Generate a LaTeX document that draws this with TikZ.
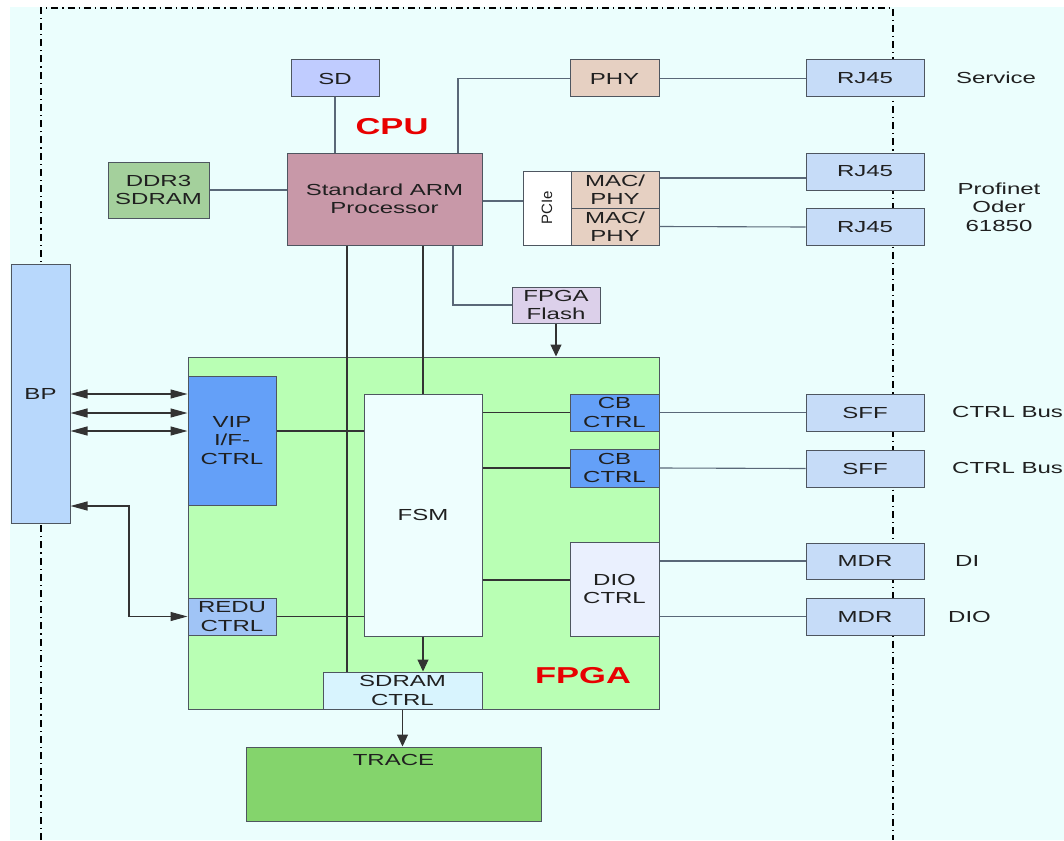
\documentclass[tikz,border=0pt]{standalone}
\usepackage{fontspec}
\setmainfont{Liberation Sans}[FakeStretch=1.5]
\newfontfamily\plainsans{Liberation Sans}
\usetikzlibrary{arrows.meta}
\definecolor{bgc}{HTML}{EBFEFD}
\definecolor{fpgac}{HTML}{B9FFB4}
\definecolor{sdc}{HTML}{C0CCFF}
\definecolor{ddrc}{HTML}{A4D09C}
\definecolor{armc}{HTML}{C898A8}
\definecolor{phyc}{HTML}{E6D0C2}
\definecolor{rjc}{HTML}{C6DCF8}
\definecolor{flashc}{HTML}{DCD0EA}
\definecolor{bpc}{HTML}{B8D8FC}
\definecolor{vipc}{HTML}{64A0F8}
\definecolor{reduc}{HTML}{A0C4F6}
\definecolor{fsmc}{HTML}{EEFEFE}
\definecolor{dioc}{HTML}{EAF0FE}
\definecolor{sdrc}{HTML}{D8F4FE}
\definecolor{tracec}{HTML}{84D46C}
\definecolor{bord}{HTML}{4E5660}
\definecolor{lnc}{HTML}{5A6878}
\definecolor{txt}{HTML}{202020}
\definecolor{redlbl}{HTML}{E80000}
\begin{document}
\begin{tikzpicture}[x=1pt,y=-1pt,
  box/.style={draw=bord, line width=1pt, inner sep=0pt, align=center,
    font=\fontsize{16}{18.5}\selectfont, text=txt},
  lbl/.style={inner sep=0pt, align=center, font=\fontsize{16}{18.5}\selectfont, text=txt},
  biglbl/.style={inner sep=0pt, font=\bfseries\fontsize{23}{25}\selectfont, text=redlbl},
  conn/.style={draw=lnc, line width=1.1pt},
  conn2/.style={draw=black!80, line width=1.1pt},
  varr/.style={-{Triangle[length=12pt,width=11pt]}},
  harr/.style={{Triangle[length=17pt,width=9pt]}-{Triangle[length=17pt,width=9pt]}},
  dd/.style={draw=black, line width=1.2pt, dash pattern=on 7pt off 4pt on 1.2pt off 4pt}
]
\useasboundingbox (0,0) rectangle (1064,840);
\fill[white] (0,0) rectangle (1064,840);
\fill[bgc] (10,7) rectangle (1064,840);
\coordinate (tl) at (41,8);
\coordinate (tr) at (893,8);
\coordinate (bl) at (41,840);
\coordinate (br) at (893,840);
\draw[dd] (bl) -- (tl) -- (tr) -- (br);

% FPGA frame
\node[box, fill=fpgac, minimum width=471pt, minimum height=352pt] (FPGA) at (423.5,533) {};

% CPU side
\node[box, fill=sdc, minimum width=88pt, minimum height=37pt] (SD) at (335,78.5) {SD};
\node[box, fill=ddrc, minimum width=101pt, minimum height=56pt] (DDR3) at (158.5,190) {DDR3\\SDRAM};
\node[box, fill=armc, minimum width=195pt, minimum height=92pt] (ARM) at (384.5,199) {Standard ARM\\Processor};
\node[box, fill=phyc, minimum width=89pt, minimum height=37pt] (PHY) at (614.5,78.5) {PHY};
\node[box, fill=white, minimum width=48pt, minimum height=74pt] (PCIe) at (547,208) {};
\node[inner sep=0pt, rotate=90, font=\plainsans\fontsize{15}{16}\selectfont, text=txt] (PCIelbl) at (547,208) {PCIe};
\node[box, fill=phyc, minimum width=88pt, minimum height=37pt] (MAC1) at (615,189.5) {MAC/\\PHY};
\node[box, fill=phyc, minimum width=88pt, minimum height=37pt] (MAC2) at (615,226.5) {MAC/\\PHY};
\node[box, fill=flashc, minimum width=88pt, minimum height=36pt] (Flash) at (556,305) {FPGA\\Flash};

\node[box, fill=rjc, minimum width=118pt, minimum height=37pt] (RJ1) at (865,78.5) {RJ45};
\node[box, fill=rjc, minimum width=118pt, minimum height=37pt] (RJ2) at (865,171.5) {RJ45};
\node[box, fill=rjc, minimum width=118pt, minimum height=37pt] (RJ3) at (865,227) {RJ45};

\node[box, fill=bpc, minimum width=59pt, minimum height=259pt] (BP) at (40.5,393.5) {BP};

% FPGA inner blocks
\node[box, fill=vipc, minimum width=88pt, minimum height=129pt] (VIP) at (232,440.5) {VIP\\I/F-\\CTRL};
\node[box, fill=reduc, minimum width=88pt, minimum height=37pt] (REDU) at (232,616.5) {REDU\\CTRL};
\node[box, fill=fsmc, minimum width=118pt, minimum height=242pt] (FSM) at (423,515) {FSM};
\node[box, fill=vipc, minimum width=89pt, minimum height=37pt] (CB1) at (614.5,412.5) {CB\\CTRL};
\node[box, fill=vipc, minimum width=89pt, minimum height=38pt] (CB2) at (614.5,468) {CB\\CTRL};
\node[box, fill=dioc, minimum width=89pt, minimum height=94pt] (DIO) at (614.5,589) {DIO\\CTRL};
\node[box, fill=sdrc, minimum width=159pt, minimum height=37pt] (SDR) at (402.5,690.5) {SDRAM\\CTRL};
\node[box, fill=tracec, minimum width=295pt, minimum height=74pt] (TRACE) at (393.5,784) {};
\node[lbl] (tracelbl) at (393.5,760) {TRACE};

\node[box, fill=rjc, minimum width=118pt, minimum height=37pt] (SFF1) at (865,412.5) {SFF};
\node[box, fill=rjc, minimum width=118pt, minimum height=37pt] (SFF2) at (865,468.5) {SFF};
\node[box, fill=rjc, minimum width=118pt, minimum height=36pt] (MDR1) at (865,561) {MDR};
\node[box, fill=rjc, minimum width=118pt, minimum height=37pt] (MDR2) at (865,616.5) {MDR};

% labels
\node[biglbl] (cpulbl) at (392,127) {CPU};
\node[biglbl] (fpgalbl) at (583,676) {FPGA};
\node[lbl] (service) at (996,78) {Service};
\node[lbl] (profinet) at (999,207) {Profinet\\Oder\\61850};
\node[lbl, anchor=west] (bus1) at (952,412) {CTRL Bus};
\node[lbl, anchor=west] (bus2) at (952,468) {CTRL Bus};
\node[lbl, anchor=west] (di) at (955,561) {DI};
\node[lbl, anchor=west] (dio) at (948,617) {DIO};

% connectors
\coordinate (xPHY) at (458,0);
\draw[conn] (ARM.north -| xPHY) |- (PHY.west);
\draw[conn] (SD.south) -- (SD.south |- ARM.north);
\draw[conn] (DDR3.east) -- (DDR3.east -| ARM.west);
\draw[conn] (PHY.east) -- (RJ1.west);
\coordinate (yPC) at (0,201);
\draw[conn] (ARM.east |- yPC) -- (PCIe.west |- yPC);
\coordinate (yM1) at (0,178);
\draw[conn] (MAC1.east |- yM1) -- (RJ2.west |- yM1);
\draw[conn] (MAC2.east) -- (RJ3.west);
\coordinate (xF) at (453,0);
\draw[conn] (ARM.south -| xF) |- (Flash.west);
\draw[conn2, varr] (Flash.south) -- (Flash.south |- FPGA.north);
\coordinate (xS) at (347,0);
\draw[conn2] (ARM.south -| xS) -- (SDR.north -| xS);
\draw[conn2] (FSM.north |- ARM.south) -- (FSM.north);
\coordinate (bpa) at (0,394);
\coordinate (bpb) at (0,413);
\coordinate (bpc) at (0,431);
\draw[conn2, harr] (BP.east |- bpa) -- (VIP.west |- bpa);
\draw[conn2, harr] (BP.east |- bpb) -- (VIP.west |- bpb);
\draw[conn2, harr] (BP.east |- bpc) -- (VIP.west |- bpc);
\coordinate (kR) at (129,506);
\draw[conn2, harr] (BP.east |- kR) -- (kR) |- (REDU.west);
\draw[conn2] (VIP.east |- bpc) -- (FSM.west |- bpc);
\draw[conn2] (REDU.east) -- (REDU.east -| FSM.west);
\draw[conn2] (CB1.west -| FSM.east) -- (CB1.west);
\draw[conn2] (CB2.west -| FSM.east) -- (CB2.west);
\coordinate (yD) at (0,580);
\draw[conn2] (FSM.east |- yD) -- (DIO.west |- yD);
\draw[conn2, varr] (FSM.south) -- (FSM.south |- SDR.north);
\draw[conn2, varr] (SDR.south) -- (SDR.south |- TRACE.north);
\draw[conn] (CB1.east) -- (SFF1.west);
\draw[conn] (CB2.east) -- (SFF2.west);
\draw[conn] (MDR1.west -| DIO.east) -- (MDR1.west);
\draw[conn] (MDR2.west -| DIO.east) -- (MDR2.west);
\end{tikzpicture}
\end{document}
